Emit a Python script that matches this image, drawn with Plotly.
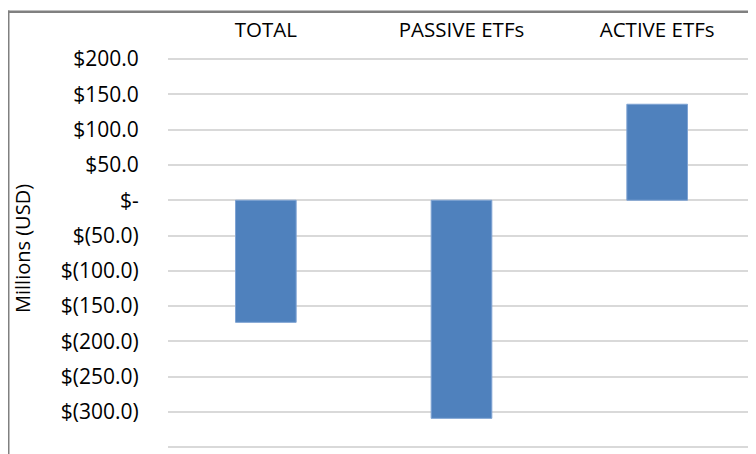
import plotly.graph_objects as go

categories = ["TOTAL", "PASSIVE ETFs", "ACTIVE ETFs"]
flows = [-173.0, -309.0, 136.0]
tick_values = [200, 150, 100, 50, 0, -50, -100, -150, -200, -250, -300, -350]
tick_labels = ["$200.0", "$150.0", "$100.0", "$50.0", "$-", "$(50.0)", "$(100.0)",
               "$(150.0)", "$(200.0)", "$(250.0)", "$(300.0)", "$(350.0)"]

FONT = "Open Sans"
# page body has an 8px margin, so the figure is sized to fit the window
W, H = 748, 446
L, R, T, B = 160, 1, 50, 0
pw, ph = W - L - R, H - T - B
Y_TOP, Y_BOT = 201.5, -359.5

def px(x):
    return (x - L) / pw

def py(y):
    return (H - B - y) / ph

fig = go.Figure(go.Bar(
    x=categories, y=flows,
    marker=dict(color="#4F81BD", line=dict(color="#7FA3D3", width=1)),
    width=0.31,
))

GREY = "#808080"
fig.update_layout(
    width=W, height=H,
    margin=dict(l=L, r=R, t=T, b=B, autoexpand=False),
    paper_bgcolor="white", plot_bgcolor="white",
    showlegend=False,
    font=dict(family=FONT, size=18, color="#000000"),
    xaxis=dict(side="top", showgrid=False, showline=False, zeroline=False,
               automargin=False,
               ticks="outside", ticklen=12, tickcolor="rgba(0,0,0,0)",
               tickfont=dict(family=FONT, size=20.5, color="#000000")),
    yaxis=dict(range=[Y_BOT, Y_TOP], tickvals=tick_values, ticktext=tick_labels,
               automargin=False,
               showgrid=True, gridcolor="#D9D9D9", gridwidth=2,
               zeroline=False, showline=False,
               ticks="outside", ticklen=24, tickcolor="rgba(0,0,0,0)",
               tickfont=dict(family=FONT, size=21, color="#000000")),
    shapes=[
        dict(type="rect", xref="paper", yref="paper",
             x0=px(0), x1=px(W), y0=py(5), y1=py(2.5),
             fillcolor=GREY, line=dict(width=0), layer="above"),
        dict(type="rect", xref="paper", yref="paper",
             x0=px(0), x1=px(1.5), y0=py(H), y1=py(2.5),
             fillcolor=GREY, line=dict(width=0), layer="above"),
    ],
    annotations=[dict(text="Millions (USD)", xref="paper", yref="paper",
                      x=px(14), y=py(241), textangle=-90, showarrow=False,
                      xanchor="center", yanchor="middle",
                      font=dict(family=FONT, size=20, color="#000000"))],
)

fig.write_html("out.html")
